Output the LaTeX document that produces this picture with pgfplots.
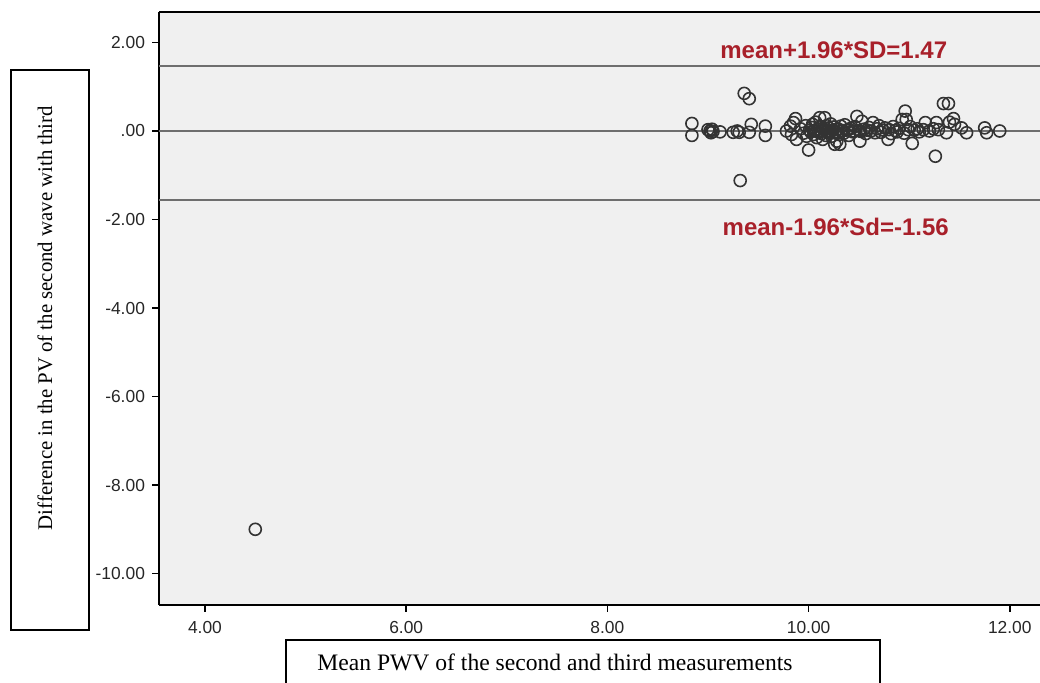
\documentclass[border=0pt]{standalone}
\usepackage{fontspec}
\setmainfont{Liberation Serif}
\newfontfamily\arial{Liberation Sans}
\usepackage{pgfplots}
\pgfplotsset{compat=1.18}
\definecolor{bgfill}{RGB}{240,240,240}
\definecolor{refline}{RGB}{110,110,110}
\definecolor{annot}{RGB}{168,32,42}

\pgfplotstableread{
x y
4.50 -9.00
8.84 0.17
8.84 -0.10
9.00 0.03
9.02 0.00
9.04 0.04
9.05 -0.01
9.03 -0.04
9.12 -0.02
9.25 -0.03
9.29 0.00
9.31 -0.03
9.32 -1.12
9.36 0.85
9.41 0.73
9.43 0.15
9.41 -0.03
9.57 0.11
9.57 -0.10
9.78 0.00
9.82 0.11
9.83 -0.08
9.87 0.28
9.88 -0.19
9.85 0.19
9.92 0.05
9.95 -0.05
9.97 0.12
9.98 -0.12
10.00 -0.43
10.01 0.02
10.02 -0.02
10.03 0.08
10.04 0.15
10.05 -0.08
10.05 0.00
10.06 0.01
10.07 0.20
10.08 -0.15
10.09 0.05
10.10 -0.03
10.11 0.30
10.12 0.10
10.12 0.00
10.13 -0.06
10.14 -0.19
10.15 0.03
10.16 0.30
10.17 -0.10
10.18 0.12
10.18 -0.02
10.19 0.00
10.20 0.07
10.21 -0.04
10.22 0.16
10.22 0.00
10.23 -0.12
10.24 0.02
10.25 0.09
10.26 -0.30
10.27 -0.02
10.28 -0.23
10.28 0.03
10.29 0.05
10.30 -0.08
10.31 -0.30
10.32 0.11
10.33 0.00
10.34 0.01
10.35 -0.05
10.36 0.14
10.38 0.02
10.40 -0.10
10.40 0.04
10.42 0.06
10.44 -0.02
10.45 0.00
10.46 0.10
10.48 0.33
10.50 0.01
10.51 -0.23
10.52 -0.01
10.53 0.22
10.55 0.04
10.57 -0.06
10.58 0.02
10.60 0.08
10.62 0.00
10.64 0.19
10.66 -0.04
10.68 0.05
10.70 0.12
10.72 -0.03
10.74 0.02
10.76 0.07
10.79 -0.19
10.80 0.03
10.82 -0.06
10.84 0.10
10.86 0.01
10.88 -0.02
10.90 0.06
10.93 0.26
10.96 0.45
10.97 0.26
10.95 -0.05
10.99 0.03
11.01 0.10
11.03 -0.28
11.05 0.02
11.08 0.05
11.10 -0.02
11.14 0.03
11.16 0.19
11.20 0.00
11.24 0.05
11.26 -0.57
11.27 0.19
11.29 0.03
11.34 0.62
11.39 0.62
11.37 -0.04
11.40 0.20
11.44 0.28
11.45 0.15
11.52 0.07
11.57 -0.04
11.75 0.07
11.77 -0.04
11.90 0.00
}\pwvdata

\begin{document}
\begin{tikzpicture}
\begin{axis}[
    at={(79.5pt,39pt)}, anchor=south west,
    scale only axis,
    width=440.5pt, height=296.5pt,
    xmin=3.543, xmax=12.30,
    ymin=-10.71, ymax=2.689,
    axis x line*=box,
    axis y line*=left,
    axis line style={black, line width=0.8pt},
    axis background/.style={fill=bgfill},
    xtick={4,6,8,10,12},
    xticklabels={4.00,6.00,8.00,10.00,12.00},
    ytick={-10,-8,-6,-4,-2,0,2},
    yticklabels={-10.00,-8.00,-6.00,-4.00,-2.00,.00,2.00},
    tick align=outside,
    tick pos=left,
    major tick length=3.5pt,
    tick style={black, line width=0.8pt},
    /pgf/number format/assume math mode=true,
    ticklabel style={font=\arial\fontsize{8.7}{10}\selectfont, text=black!85},
    xticklabel style={yshift=-1pt},
    clip=false,
]
\addplot[refline, line width=1pt] coordinates {(3.543,1.47) (12.30,1.47)};
\addplot[refline, line width=1pt] coordinates {(3.543,0) (12.30,0)};
\addplot[refline, line width=1pt] coordinates {(3.543,-1.56) (12.30,-1.56)};
\addplot[only marks, mark=o, mark size=3pt,
    mark options={draw=black!80, line width=0.8pt}]
    table[x=x, y=y] {\pwvdata};
\node[font=\arial\bfseries\fontsize{12}{14}\selectfont, text=annot]
    at (axis cs:10.25,1.82) {mean+1.96*SD=1.47};
\node[font=\arial\bfseries\fontsize{12}{14}\selectfont, text=annot]
    at (axis cs:10.27,-2.16) {mean-1.96*Sd=-1.56};
\end{axis}
% boxed axis titles
\draw[black, line width=0.6pt] (5.5pt,26.5pt) rectangle (44.5pt,306.5pt);
\node[rotate=90, font=\fontsize{10.4}{12}\selectfont] at (22.5pt,182.5pt)
    {Difference in the PV of the second wave with third};
\draw[black, line width=0.6pt] (143pt,-10pt) rectangle (440pt,21.5pt);
\node[font=\fontsize{11.8}{13}\selectfont] at (277.5pt,10.5pt)
    {Mean PWV of the second and third measurements};
\pgfresetboundingbox
\path (0pt,0pt) rectangle (520pt,341.5pt);
\end{tikzpicture}
\end{document}
